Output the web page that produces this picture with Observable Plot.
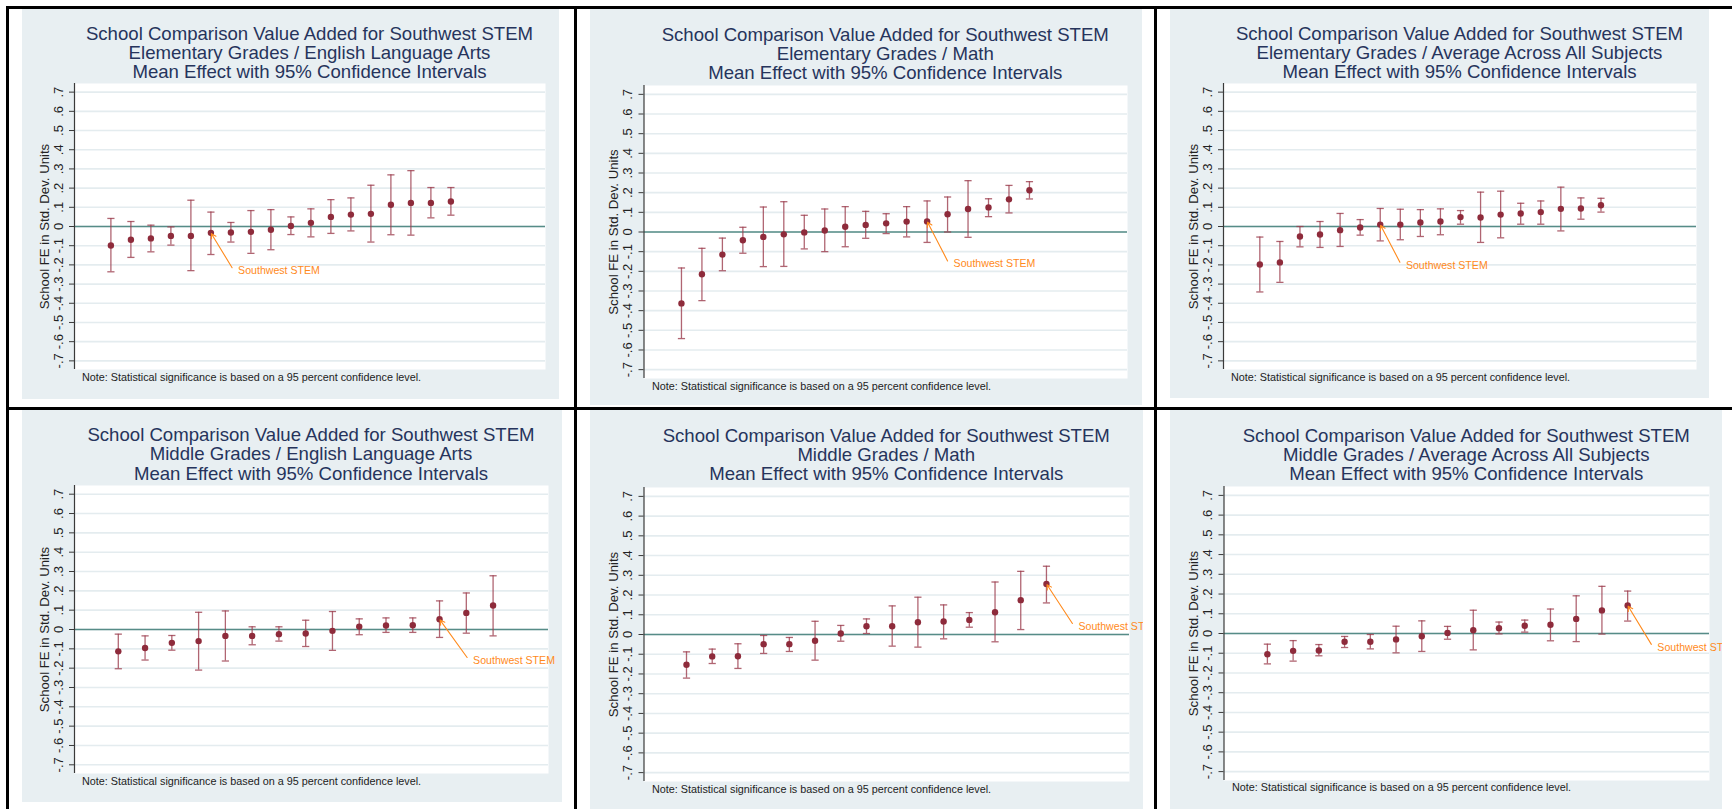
<!DOCTYPE html>
<html><head><meta charset="utf-8">
<script src="https://cdn.jsdelivr.net/npm/d3@7"></script>
<script src="https://cdn.jsdelivr.net/npm/@observablehq/plot@0.6"></script>
<style>
html,body{margin:0;padding:0;background:#fff}
body{width:1732px;height:809px;position:relative;overflow:hidden;font-family:"Liberation Sans",Arial,sans-serif}
.panel{position:absolute;background:#e8eff2;overflow:hidden}
.panel svg{position:absolute;left:0;top:0}
.title{position:absolute;text-align:center;color:#26345c;font-size:18.6px;line-height:19.2px;white-space:nowrap}
.note{position:absolute;font-size:10.8px;line-height:13px;color:#222;white-space:nowrap}
.border{position:absolute;background:#000}
</style></head><body>
<script>
// ---- shared text / ticks ----
const yTickValues = [0.7,0.6,0.5,0.4,0.3,0.2,0.1,0,-0.1,-0.2,-0.3,-0.4,-0.5,-0.6,-0.7];
const yTickLabels = [".7",".6",".5",".4",".3",".2",".1","0","-.1","-.2","-.3","-.4","-.5","-.6","-.7"];
const titleLine1 = "School Comparison Value Added for Southwest STEM";
const titleLine3 = "Mean Effect with 95% Confidence Intervals";
const subtitles = [
  "Elementary Grades / English Language Arts",
  "Elementary Grades / Math",
  "Elementary Grades / Average Across All Subjects",
  "Middle Grades / English Language Arts",
  "Middle Grades / Math",
  "Middle Grades / Average Across All Subjects"
];
const yAxisTitle = "School FE in Std. Dev. Units";
const noteText = "Note: Statistical significance is based on a 95 percent confidence level.";
const schoolLabel = "Southwest STEM";

// ---- Elementary ELA ----
const elemElaMean = [-0.099,-0.069,-0.062,-0.049,-0.049,-0.033,-0.031,-0.028,-0.017,0.003,0.019,0.050,0.062,0.066,0.113,0.123,0.123,0.130];
const elemElaLo   = [-0.236,-0.161,-0.132,-0.097,-0.230,-0.146,-0.081,-0.140,-0.121,-0.042,-0.054,-0.036,-0.023,-0.081,-0.043,-0.045,0.045,0.059];
const elemElaHi   = [0.042,0.026,0.007,-0.002,0.137,0.075,0.021,0.083,0.088,0.050,0.092,0.140,0.149,0.215,0.269,0.291,0.203,0.203];
// ---- Elementary Math ----
const elemMathMean = [-0.363,-0.215,-0.115,-0.042,-0.025,-0.012,-0.002,0.008,0.027,0.036,0.044,0.053,0.054,0.090,0.117,0.125,0.166,0.212];
const elemMathLo   = [-0.542,-0.349,-0.197,-0.108,-0.176,-0.175,-0.086,-0.100,-0.075,-0.032,-0.008,-0.025,-0.053,0.000,-0.027,0.078,0.097,0.168];
const elemMathHi   = [-0.183,-0.083,-0.031,0.024,0.127,0.154,0.085,0.117,0.129,0.105,0.093,0.129,0.158,0.178,0.261,0.169,0.237,0.256];
// ---- Elementary Average ----
const elemAvgMean = [-0.198,-0.187,-0.052,-0.042,-0.019,-0.005,0.010,0.010,0.021,0.026,0.049,0.047,0.062,0.068,0.075,0.092,0.094,0.111];
const elemAvgLo   = [-0.341,-0.291,-0.106,-0.109,-0.104,-0.045,-0.075,-0.069,-0.052,-0.043,0.012,-0.083,-0.059,0.012,0.012,-0.023,0.038,0.075];
const elemAvgHi   = [-0.055,-0.078,0.000,0.026,0.068,0.036,0.094,0.090,0.088,0.092,0.083,0.179,0.184,0.121,0.133,0.205,0.149,0.147];
// ---- Middle ELA ----
const midElaMean = [-0.113,-0.096,-0.069,-0.060,-0.033,-0.033,-0.024,-0.021,-0.007,0.015,0.021,0.022,0.053,0.086,0.124];
const midElaLo   = [-0.203,-0.158,-0.107,-0.210,-0.163,-0.079,-0.060,-0.088,-0.108,-0.027,-0.015,-0.015,-0.041,-0.019,-0.033];
const midElaHi   = [-0.024,-0.033,-0.031,0.089,0.096,0.014,0.014,0.048,0.093,0.055,0.060,0.060,0.148,0.189,0.278];
// ---- Middle Math ----
const midMathMean = [-0.153,-0.111,-0.110,-0.049,-0.049,-0.032,0.005,0.042,0.042,0.062,0.066,0.074,0.113,0.174,0.256];
const midMathLo   = [-0.221,-0.147,-0.172,-0.096,-0.086,-0.130,-0.034,0.005,-0.059,-0.064,-0.022,0.037,-0.037,0.025,0.160];
const midMathHi   = [-0.088,-0.074,-0.047,-0.005,-0.015,0.067,0.046,0.079,0.145,0.189,0.150,0.111,0.266,0.320,0.346];
// ---- Middle Average ----
const midAvgMean = [-0.105,-0.088,-0.086,-0.042,-0.042,-0.030,-0.014,0.003,0.017,0.027,0.039,0.044,0.074,0.117,0.142];
const midAvgLo   = [-0.154,-0.140,-0.113,-0.071,-0.078,-0.098,-0.091,-0.029,-0.083,-0.002,0.007,-0.037,-0.041,-0.003,0.063];
const midAvgHi   = [-0.054,-0.036,-0.056,-0.015,-0.005,0.037,0.064,0.036,0.118,0.058,0.068,0.124,0.191,0.239,0.215];

// rank of Southwest STEM in each panel
const highlightRank = [6, 13, 7, 13, 15, 15];
// arrow tail (label anchor) in data units [rank, value]
const labelTailX = [7.06, 14.0, 7.98, 14.03, 16.01, 15.92];
const labelTailY = [-0.215, -0.147, -0.186, -0.145, 0.056, -0.055];

// ---- layout (page pixels) ----
const layouts = [
  {gray:[22,9,559,399],    frame:[74,83,545,369],      xDomain:[-0.82,22.73], title:40,    note:381,   noteX:82},
  {gray:[590,8,1142,405],  frame:[643.5,85,1127,378],  xDomain:[-0.83,22.79], title:40.7,  note:390.7, noteX:652},
  {gray:[1170,8,1709,398], frame:[1223,83,1696,369],   xDomain:[-0.81,22.76], title:39.7,  note:381,   noteX:1231},
  {gray:[22,410,562,802],  frame:[74,485,548,773],     xDomain:[-0.636,17.07], title:441.3, note:785,  noteX:82},
  {gray:[590,410,1143,809],frame:[643.5,487,1129,781], xDomain:[-0.653,18.23], title:442,  note:793.7, noteX:652},
  {gray:[1170,410,1722,809],frame:[1223.5,486,1709,780],xDomain:[-0.686,18.18], title:442, note:791.7, noteX:1232}
];
const series = [
  [elemElaMean, elemElaLo, elemElaHi],
  [elemMathMean, elemMathLo, elemMathHi],
  [elemAvgMean, elemAvgLo, elemAvgHi],
  [midElaMean, midElaLo, midElaHi],
  [midMathMean, midMathLo, midMathHi],
  [midAvgMean, midAvgLo, midAvgHi]
];

const maroon = "#8e2b3b", ciColor = "#9c3e4f", orange = "#ff8a1c", teal = "#568c87", grid = "#e4ecef";
const FONT = "'Liberation Sans', Arial, sans-serif";
const capSymbol = {draw(ctx, size){ const r = Math.sqrt(size/Math.PI); ctx.moveTo(-r,0); ctx.lineTo(r,0); }};

function border(l,t,w,h){const d=document.createElement("div");d.className="border";Object.assign(d.style,{left:l+"px",top:t+"px",width:w+"px",height:h+"px"});document.body.appendChild(d);}

layouts.forEach((L, k) => {
  const [mean, lo, hi] = series[k];
  const rows = mean.map((m,i)=>({rank:i+1, mean:m, lo:lo[i], hi:hi[i]}));
  const hl = highlightRank[k];
  const annot = [{tx: labelTailX[k], ty: labelTailY[k], px: hl, py: mean[hl-1]}];
  const [gl,gt,gr,gb] = L.gray, [fl,ft,fr,fb] = L.frame;
  const W = gr-gl, H = gb-gt;
  const div = document.createElement("div");
  div.className = "panel";
  Object.assign(div.style,{left:gl+"px",top:gt+"px",width:W+"px",height:H+"px"});
  const svg = Plot.plot({
    width: W, height: H,
    marginLeft: fl-gl, marginTop: ft-gt, marginRight: gr-fr, marginBottom: gb-fb,
    x: {domain: L.xDomain, axis: null},
    y: {domain: [-0.745, 0.745], axis: null},
    style: {background: "transparent", overflow: "visible", fontFamily: FONT},
    marks: [
      Plot.frame({fill: "white", stroke: "none"}),
      Plot.ruleY(yTickValues, {stroke: grid, strokeWidth: 1.6}),
      Plot.ruleY([0], {stroke: teal, strokeWidth: 1.5}),
      Plot.ruleX([L.xDomain[0]], {stroke: "#3a3a3a", strokeWidth: 1.2}),
      Plot.axisY({ticks: yTickValues, tickSize: 5, tickFormat: () => "", label: null, stroke: "#3a3a3a"}),
      Plot.text(yTickValues, {y: d => d, text: (d, i) => yTickLabels[i], frameAnchor: "left", dx: -16, rotate: -90, textAnchor: "middle", lineAnchor: "middle", fontSize: 13, fill: "#222"}),
      Plot.text([yAxisTitle], {frameAnchor: "left", dx: -30, rotate: -90, textAnchor: "middle", lineAnchor: "middle", fontSize: 13.2, fill: "#222"}),
      Plot.ruleX(rows, {x: "rank", y1: "lo", y2: "hi", stroke: ciColor, strokeWidth: 1.3, strokeOpacity: 0.8}),
      Plot.dot(rows, {x: "rank", y: "lo", symbol: capSymbol, r: 3.6, fill: "none", stroke: ciColor, strokeWidth: 1.3, strokeOpacity: 0.8}),
      Plot.dot(rows, {x: "rank", y: "hi", symbol: capSymbol, r: 3.6, fill: "none", stroke: ciColor, strokeWidth: 1.3, strokeOpacity: 0.8}),
      Plot.dot(rows, {x: "rank", y: "mean", r: 3.2, fill: maroon, stroke: "none"}),
      Plot.arrow(annot, {x1: "tx", y1: "ty", x2: "px", y2: "py", stroke: orange, strokeWidth: 1.1, headLength: 7, insetEnd: 1}),
      Plot.text(annot, {x: "tx", y: "ty", text: () => schoolLabel, dx: 6, dy: 3, textAnchor: "start", lineAnchor: "middle", fontSize: 10.6, fill: orange})
    ]
  });
  div.appendChild(svg);
  const t = document.createElement("div");
  t.className = "title";
  const cx = (fl+fr)/2 - gl;
  Object.assign(t.style,{left:(cx-300)+"px",width:"600px",top:(L.title-gt-16.04)+"px"});
  [titleLine1, subtitles[k], titleLine3].forEach(s=>{const e=document.createElement("div");e.textContent=s;t.appendChild(e);});
  div.appendChild(t);
  const n = document.createElement("div");
  n.className = "note";
  n.textContent = noteText;
  Object.assign(n.style,{left:(L.noteX-gl)+"px",top:(L.note-gt-10.24)+"px"});
  div.appendChild(n);
  document.body.appendChild(div);
});

// table borders
border(6,6,1726,3);
border(6,6,3,803);
border(574,6,3,803);
border(1154,6,3,803);
border(6,407,1726,3);
</script>
</body></html>
